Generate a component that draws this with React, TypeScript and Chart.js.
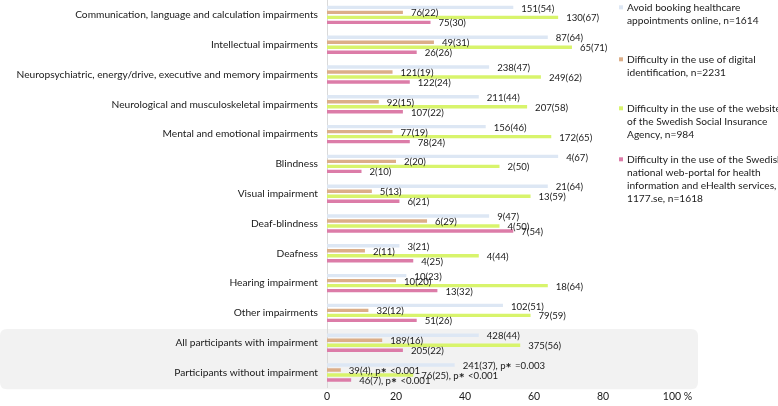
import React, { useEffect, useRef } from "react";
import { Chart, registerables } from "chart.js";

Chart.register(...registerables);

const categories = [
  "Communication, language and calculation impairments",
  "Intellectual impairments",
  "Neuropsychiatric, energy/drive, executive and memory impairments",
  "Neurological and musculoskeletal impairments",
  "Mental and emotional impairments",
  "Blindness",
  "Visual impairment",
  "Deaf-blindness",
  "Deafness",
  "Hearing impairment",
  "Other impairments",
  "All participants with impairment",
  "Participants without impairment",
];

const avoidBooking = [54, 64, 47, 44, 46, 67, 64, 47, 21, 23, 51, 44, 37];
const digitalId = [22, 31, 19, 15, 19, 20, 13, 29, 11, 20, 12, 16, 4];
const insuranceWebsite = [67, 71, 62, 58, 65, 50, 59, 50, 44, 64, 59, 56, 25];
const healthPortal = [30, 26, 24, 22, 24, 10, 21, 54, 25, 32, 26, 22, 7];

const avoidBookingLabels = ["151(54)", "87(64)", "238(47)", "211(44)", "156(46)", "4(67)", "21(64)", "9(47)", "3(21)", "10(23)", "102(51)", "428(44)", "241(37), p* =0.003"];
const digitalIdLabels = ["76(22)", "49(31)", "121(19)", "92(15)", "77(19)", "2(20)", "5(13)", "6(29)", "2(11)", "10(20)", "32(12)", "189(16)", "39(4), p* <0.001"];
const insuranceWebsiteLabels = ["130(67)", "65(71)", "249(62)", "207(58)", "172(65)", "2(50)", "13(59)", "4(50)", "4(44)", "18(64)", "79(59)", "375(56)", "76(25), p* <0.001"];
const healthPortalLabels = ["75(30)", "26(26)", "122(24)", "107(22)", "78(24)", "2(10)", "6(21)", "7(54)", "4(25)", "13(32)", "51(26)", "205(22)", "46(7), p* <0.001"];

const xTicks = [0, 20, 40, 60, 80, 100];
const xUnit = " %";

const seriesNames = [
  ["Avoid booking healthcare", "appointments online, n=1614"],
  ["Difficulty in the use of digital", "identification, n=2231"],
  ["Difficulty in the use of the website", "of the Swedish Social Insurance", "Agency, n=984"],
  ["Difficulty in the use of the Swedish", "national web-portal for health", "information and eHealth services,", "1177.se, n=1618"],
];

const seriesColors = ["#dde7f4", "#dcae88", "#d8f46c", "#dc7ca8"];
const FONT = "Lato";
const TEXT = "#1a1a1a";

const valueLabelPlugin = {
  id: "valueLabels",
  afterDatasetsDraw(chart: any) {
    const ctx = chart.ctx;
    const labelSets = [avoidBookingLabels, digitalIdLabels, insuranceWebsiteLabels, healthPortalLabels];
    ctx.save();
    ctx.textBaseline = "middle";
    ctx.textAlign = "left";
    ctx.fillStyle = TEXT;
    chart.data.datasets.forEach((_: any, di: number) => {
      const meta = chart.getDatasetMeta(di);
      meta.data.forEach((el: any, i: number) => {
        const txt: string = labelSets[di][i];
        let x = el.x + 8;
        const y = el.y + 1;
        const parts = txt.split("*");
        parts.forEach((p, pi) => {
          ctx.font = `9.6px ${FONT}`;
          ctx.fillText(p, x, y);
          x += ctx.measureText(p).width;
          if (pi < parts.length - 1) {
            ctx.font = `bold 14px ${FONT}`;
            ctx.fillText("*", x, y + 2);
            x += ctx.measureText("*").width + 1;
          }
        });
      });
    });
    ctx.restore();
  },
};

const bandPlugin = {
  id: "band",
  beforeDraw(chart: any) {
    const ctx = chart.ctx;
    const y = chart.scales.y;
    const step = y.getPixelForValue(1) - y.getPixelForValue(0);
    const top = y.getPixelForValue(11) - step * 0.46;
    const bottom = y.getPixelForValue(12) + step * 0.56;
    const left = 0;
    const right = chart.scales.x.getPixelForValue(100) + 26;
    const r = 7;
    ctx.save();
    ctx.fillStyle = "#f2f2f2";
    ctx.beginPath();
    ctx.moveTo(left + r, top);
    ctx.lineTo(right - r, top);
    ctx.quadraticCurveTo(right, top, right, top + r);
    ctx.lineTo(right, bottom - r);
    ctx.quadraticCurveTo(right, bottom, right - r, bottom);
    ctx.lineTo(left + r, bottom);
    ctx.quadraticCurveTo(left, bottom, left, bottom - r);
    ctx.lineTo(left, top + r);
    ctx.quadraticCurveTo(left, top, left + r, top);
    ctx.closePath();
    ctx.fill();
    ctx.restore();
  },
};

const legendPlugin = {
  id: "sideLegend",
  afterDraw(chart: any) {
    const ctx = chart.ctx;
    const x = chart.scales.x;
    const y = chart.scales.y;
    ctx.save();
    ctx.font = `10.5px ${FONT}`;
    ctx.fillStyle = TEXT;
    ctx.textBaseline = "middle";
    ctx.textAlign = "left";
    const last = xTicks[xTicks.length - 1];
    const lastW = ctx.measureText(String(last)).width;
    ctx.fillText(xUnit, x.getPixelForValue(last) + lastW / 2, y.bottom + 9.5);

    const startX = 627;
    const itemTops = [7.3, 59.3, 108.3, 159.3];
    const lh = 13.3;
    ctx.font = `10.2px ${FONT}`;
    seriesNames.forEach((lines, i) => {
      ctx.fillStyle = seriesColors[i];
      ctx.fillRect(startX - 8, itemTops[i] - 2, 4, 4);
      ctx.fillStyle = TEXT;
      lines.forEach((ln, li) => {
        ctx.fillText(ln, startX, itemTops[i] + li * lh);
      });
    });
    ctx.restore();
  },
};

export default function App() {
  const ref = useRef<HTMLCanvasElement | null>(null);
  useEffect(() => {
    if (!ref.current) return;
    const chart = new Chart(ref.current, {
      type: "bar",
      data: {
        labels: categories,
        datasets: [avoidBooking, digitalId, insuranceWebsite, healthPortal].map((d, i) => ({
          label: seriesNames[i].join(" "),
          data: d,
          backgroundColor: seriesColors[i],
          borderWidth: 0,
          categoryPercentage: 0.67,
          barPercentage: 0.68,
        })),
      },
      options: {
        indexAxis: "y",
        animation: false,
        responsive: true,
        maintainAspectRatio: false,
        layout: { padding: { top: 0, right: 106, bottom: 0, left: 0 } },
        plugins: { legend: { display: false }, tooltip: { enabled: false } },
        scales: {
          x: {
            min: 0,
            max: 100,
            afterBuildTicks: (s: any) => {
              s.ticks = xTicks.map((v) => ({ value: v }));
            },
            grid: { display: false, drawTicks: false },
            border: { display: false },
            ticks: { font: { family: FONT, size: 10.5 }, color: TEXT, padding: 3, maxRotation: 0 },
          },
          y: {
            afterFit: (s: any) => {
              s.width = 327;
              s.paddingTop = 0;
              s.paddingBottom = 0;
            },
            grid: { display: false, drawTicks: false },
            border: { display: true, color: "#d9d9d9", width: 1 },
            ticks: { font: { family: FONT, size: 10.2 }, color: TEXT, padding: 9, autoSkip: false },
          },
        },
      },
      plugins: [bandPlugin, valueLabelPlugin, legendPlugin],
    });
    return () => chart.destroy();
  }, []);
  return (
    <div style={{ position: "fixed", left: 0, top: 0, width: 778, height: 406, background: "#fff" }}>
      <canvas ref={ref} />
    </div>
  );
}
